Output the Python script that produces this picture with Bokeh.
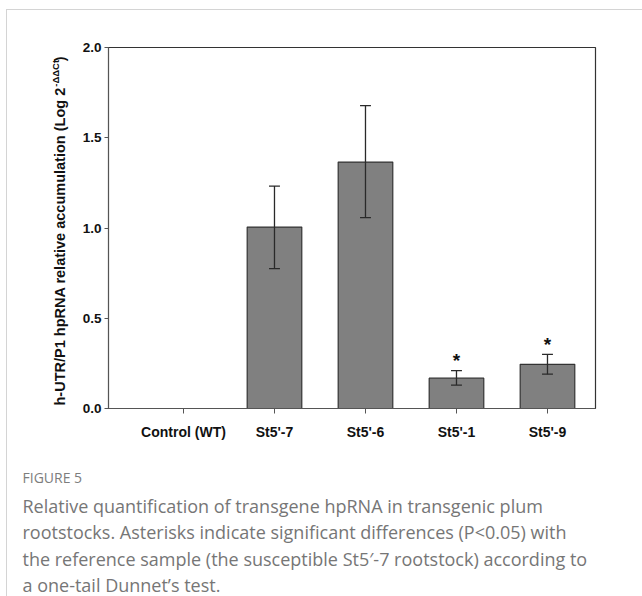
import math
from bokeh.plotting import figure
from bokeh.models import Range1d, FixedTicker, Label, ColumnDataSource, NumeralTickFormatter
from bokeh.core.properties import value
from bokeh.embed import file_html
from bokeh.resources import INLINE

# ---------------- data ----------------
categories = ["Control (WT)", "St5'-7", "St5'-6", "St5'-1", "St5'-9"]
means = [0.0, 1.005, 1.365, 0.168, 0.245]
err_low = [0.0, 0.775, 1.057, 0.130, 0.190]
err_high = [0.0, 1.232, 1.678, 0.210, 0.300]
significant = [False, False, False, True, True]
y_ticks = [0.0, 0.5, 1.0, 1.5, 2.0]

caption_title = "FIGURE 5"
caption_lines = [
    "Relative quantification of transgene hpRNA in transgenic plum",
    "rootstocks. Asterisks indicate significant differences (P<0.05) with",
    "the reference sample (the susceptible St5\u2032-7 rootstock) according to",
    "a one-tail Dunnet\u2019s test.",
]

# ---------------- layout ----------------
OX, OY = 7, 10            # figure offset on page (after card border)
W, H = 642 - OX, 596 - OY
FL, FT = 108 - OX, 47 - OY
FW, FH = 487, 361
FR = W - FL - FW
FB = H - FT - FH
X0 = -0.824
X1 = X0 + FW / 91.0
Y0, Y1 = 0.0, 2.0


def dx(px):
    return X0 + (px - FL) * (X1 - X0) / FW


def dy(py):
    return Y1 - (py - FT) * (Y1 - Y0) / FH


p = figure(width=W, height=H, output_backend="svg", toolbar_location=None,
           x_range=Range1d(X0, X1), y_range=Range1d(Y0, Y1),
           min_border_left=FL, min_border_right=FR, min_border_top=FT, min_border_bottom=FB)
p.frame_width = FW
p.frame_height = FH
p.xgrid.grid_line_color = None
p.ygrid.grid_line_color = None
p.background_fill_color = "white"
p.border_fill_color = "white"
p.outline_line_color = "#333333"
p.outline_line_width = 1.2
p.styles = {"margin-left": f"{OX - 1}px", "margin-top": f"{OY - 1}px",
            "border-top": "1px solid #d4d4d4", "border-left": "1px solid #d4d4d4"}

xs = list(range(len(categories)))
src = ColumnDataSource(dict(x=xs, top=means))
p.vbar(x="x", top="top", width=0.6, source=src, fill_color="#808080",
       line_color="#333333", line_width=1.2)

# error bars
idx = [i for i in range(len(xs)) if err_high[i] > err_low[i]]
ex = [xs[i] for i in idx]
el = [err_low[i] for i in idx]
eh = [err_high[i] for i in idx]
cap = 0.06
p.segment(x0=ex, y0=el, x1=ex, y1=eh, line_color="#2a2a2a", line_width=1.3)
p.segment(x0=[v - cap for v in ex], y0=el, x1=[v + cap for v in ex], y1=el,
          line_color="#2a2a2a", line_width=1.3)
p.segment(x0=[v - cap for v in ex], y0=eh, x1=[v + cap for v in ex], y1=eh,
          line_color="#2a2a2a", line_width=1.3)

# significance asterisks
sx = [xs[i] for i in range(len(xs)) if significant[i]]
sy = [err_high[i] + 10 * (Y1 - Y0) / FH for i in range(len(xs)) if significant[i]]
p.text(x=sx, y=sy, text=["*"] * len(sx), text_align="center", text_baseline="middle",
       text_font=value("Liberation Sans"), text_font_style="bold",
       text_font_size="19px", text_color="#111111")

# axes
p.xaxis.ticker = FixedTicker(ticks=xs)
p.xaxis.major_label_overrides = {i: c for i, c in zip(xs, categories)}
p.xaxis.minor_tick_line_color = None
p.xaxis.major_tick_in = 0
p.xaxis.major_tick_out = 5
p.xaxis.major_label_standoff = 10
p.xaxis.axis_line_color = "#555555"
p.xaxis.major_tick_line_color = "#555555"
p.xaxis.major_label_text_font = "Liberation Sans"
p.xaxis.major_label_text_font_style = "bold"
p.xaxis.major_label_text_font_size = "14px"
p.xaxis.major_label_text_color = "#111111"

p.yaxis.ticker = FixedTicker(ticks=y_ticks)
p.yaxis.formatter = NumeralTickFormatter(format="0.0")
p.yaxis.minor_tick_line_color = None
p.yaxis.major_tick_in = 0
p.yaxis.major_tick_out = 4
p.yaxis.major_label_standoff = 3
p.yaxis.axis_line_color = "#555555"
p.yaxis.major_tick_line_color = "#555555"
p.yaxis.major_label_text_font = "Liberation Sans"
p.yaxis.major_label_text_font_style = "bold"
p.yaxis.major_label_text_font_size = "13.5px"
p.yaxis.major_label_text_color = "#111111"

# y axis title (rotated, with superscript) -- placed in the left side panel so it is not clipped
fs_main = 14.5
main_text = "h-UTR/P1 hpRNA relative accumulation (Log 2"
main_em = 21.948
sup_text = "-\u0394\u0394Ct"
fs_sup = 9.5
sup_em = 2.62
lab_x = 52.5
start_y = 395
end_main = start_y - main_em * fs_main
for txt, xx, yy, fs in [
    (main_text, lab_x, start_y, fs_main),
    (sup_text, lab_x - 5, end_main - 0.5, fs_sup),
    (")", lab_x, end_main - 1 - sup_em * fs_sup, fs_main),
]:
    p.add_layout(Label(x=dx(xx), y=dy(yy), text=txt, angle=math.pi / 2,
                       text_align="left", text_baseline="middle", text_font="Liberation Sans",
                       text_font_style="bold", text_font_size=f"{fs}px", text_color="#111111"),
                 "left")

# caption -- in the bottom side panel
cap_x = 22 - OX
p.add_layout(Label(x=dx(cap_x), y=dy(477 - OY), text=caption_title, text_align="left",
                   text_baseline="middle", text_font="Open Sans", text_font_size="14px",
                   text_color="#7d7d7d"), "below")
for k, line in enumerate(caption_lines):
    p.add_layout(Label(x=dx(cap_x), y=dy(505 - OY + 26.5 * k), text=line, text_align="left",
                       text_baseline="middle", text_font="Open Sans", text_font_size="18px",
                       text_color="#767676"), "below")

open("out.html", "w").write(file_html(p, INLINE))
